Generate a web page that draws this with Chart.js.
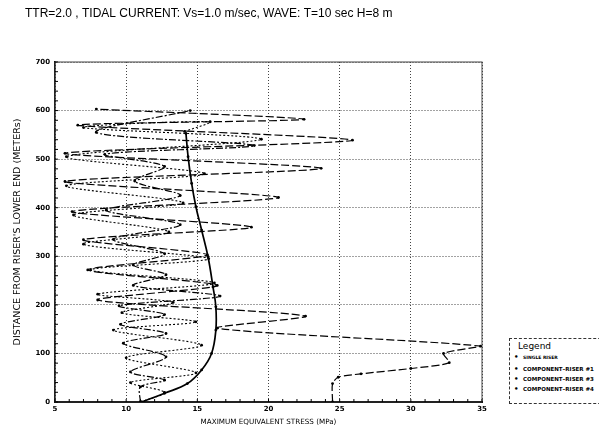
<!DOCTYPE html>
<html>
<head>
<meta charset="utf-8">
<script src="https://cdn.jsdelivr.net/npm/chart.js@4/dist/chart.umd.min.js"></script>
<style>
  html, body { margin: 0; padding: 0; background: #fff; overflow: hidden; }
  #wrap { position: relative; width: 599px; height: 433px; }
  #legend {
    position: absolute; left: 509px; top: 338px; width: 110px; height: 64px;
    border: 1px dashed #333; background: #fff; font-family: "DejaVu Sans", sans-serif; color: #000;
  }
  #legend .head { position: absolute; left: 8px; top: 2px; font-size: 9px; }
  #legend .row { position: absolute; left: 4px; font-size: 5.5px; font-weight: bold; white-space: nowrap; }
  #legend .row span { display: inline-block; width: 9px; font-size: 7px; }
</style>
</head>
<body>
<div id="wrap">
  <canvas id="mychart" width="599" height="433"></canvas>
  <div id="legend"></div>
</div>
<script>
'use strict';

const chartTitle = 'TTR=2.0 , TIDAL CURRENT: Vs=1.0 m/sec, WAVE: T=10 sec H=8 m';
const seriesNames = ['SINGLE RISER', 'COMPONENT\u2013RISER #1', 'COMPONENT\u2013RISER #3', 'COMPONENT\u2013RISER #4'];
const xTicks = [5, 10, 15, 20, 25, 30, 35];
const yTicks = [0, 100, 200, 300, 400, 500, 600, 700];

// single riser: smooth envelope
const singleStress = [11.1, 12.7, 14.3, 15.3, 16.0, 16.3, 16.3, 16.1, 15.75, 15.3, 14.9, 14.6, 14.35, 14.2];
const singleDepth  = [0, 18, 38, 66, 100, 148, 196, 237, 299, 354, 402, 450, 505, 553];

// component riser #1: starts at 24.5, runs out to 35, then big swings
const riser1Stress = [24.5, 24.5, 24.9, 26.5, 30.0, 32.7, 32.3, 34.9, 16.4, 22.6, 8.0, 16.4, 7.3, 15.7, 7.0, 18.8, 6.2, 20.7, 5.7, 23.7, 5.7, 25.9, 6.6, 22.5, 7.9];
const riser1Depth  = [0, 38, 51, 58, 69, 81, 100, 115, 152, 177, 210, 240, 272, 303, 334, 360, 392, 421, 454, 481, 512, 539, 570, 582, 603];

// component riser #3
const riser3Stress = [11.0, 12.7, 10.3, 14.9, 10.0, 15.3, 9.1, 14.9, 9.7, 13.3, 8.0, 16.2, 7.5, 15.8, 7.0, 13.0, 6.3, 14.0, 5.8, 15.5, 5.8, 19.5, 7.0, 15.9, 14.1];
const riser3Depth  = [0, 20, 40, 60, 91, 117, 148, 165, 184, 205, 222, 245, 272, 295, 325, 350, 385, 410, 445, 470, 505, 541, 565, 577, 557];

// component riser #4
const riser4Stress = [11.0, 11.0, 12.7, 10.3, 12.8, 9.8, 12.8, 9.6, 12.7, 9.5, 16.6, 10.5, 12.8, 10.5, 12.7, 9.1, 13.8, 8.6, 13.8, 10.6, 12.7, 8.5, 19.0, 7.9, 14.5];
const riser4Depth  = [0, 31, 45, 62, 93, 121, 141, 160, 180, 198, 218, 240, 262, 282, 305, 335, 365, 395, 425, 455, 485, 510, 528, 555, 600];

const pairs = (xs, ys) => xs.map((x, i) => ({x: x, y: ys[i]}));

const titlePlugin = {
    id: 'plotTitle',
    afterDraw(chart) {
        const ctx = chart.ctx;
        ctx.save();
        ctx.font = '12px "Liberation Sans"';
        ctx.fillStyle = '#000';
        ctx.textBaseline = 'middle';
        ctx.fillText(chartTitle, 25, 14);
        ctx.restore();
    }
};

// frame round the plot and the small ticks on the axes
const framePlugin = {
    id: 'frame',
    beforeDatasetsDraw(chart) {
        const {ctx, chartArea: a, scales} = chart;
        ctx.save();
        ctx.strokeStyle = '#444';
        ctx.lineWidth = 1;
        ctx.strokeRect(a.left, a.top, a.right - a.left, a.bottom - a.top);
        ctx.strokeStyle = '#000';
        ctx.beginPath();
        for (let v = 5; v <= 35; v += 1) {
            const px = scales.x.getPixelForValue(v);
            ctx.moveTo(px, a.bottom);
            ctx.lineTo(px, a.bottom - 3);
        }
        for (let v = 0; v <= 700; v += 20) {
            const py = scales.y.getPixelForValue(v);
            ctx.moveTo(a.left, py);
            ctx.lineTo(a.left + 3, py);
        }
        ctx.stroke();
        ctx.restore();
    }
};

function lineSet(label, xs, ys, width, dash, tension) {
    return {
        label: label,
        data: pairs(xs, ys),
        borderColor: '#000',
        backgroundColor: '#000',
        borderWidth: width,
        borderDash: dash,
        pointRadius: 1.4,
        pointBorderWidth: 0,
        tension: tension,
    };
}

const data = {
    datasets: [
        lineSet(seriesNames[0], singleStress, singleDepth, 1.7, [], 0.4),
        lineSet(seriesNames[1], riser1Stress, riser1Depth, 1.2, [8, 3], 0.25),
        lineSet(seriesNames[2], riser3Stress, riser3Depth, 1.1, [2, 2], 0.3),
        lineSet(seriesNames[3], riser4Stress, riser4Depth, 1.2, [7, 2, 2, 2], 0.3),
    ],
};

const tickFont = {family: '"DejaVu Sans"', size: 7, weight: 'bold'};

new Chart(document.getElementById('mychart'), {
    type: 'line',
    data: data,
    plugins: [titlePlugin, framePlugin],
    options: {
        responsive: false,
        animation: false,
        layout: {padding: {left: 12, right: 117, top: 62, bottom: 0}},
        plugins: {legend: {display: false}, tooltip: {enabled: false}},
        scales: {
            x: {
                type: 'linear',
                min: 5, max: 35,
                afterBuildTicks: (s) => { s.ticks = xTicks.map(v => ({value: v})); },
                afterFit: (s) => { s.height = 31; },
                ticks: {color: '#000', font: tickFont, padding: 3, maxRotation: 0},
                grid: {color: '#444', lineWidth: 1, drawTicks: false},
                border: {display: true, color: '#000', width: 2, dash: [1, 2]},
                title: {display: true, text: 'MAXIMUM EQUIVALENT STRESS (MPa)', color: '#000',
                        font: {family: '"DejaVu Sans"', size: 7.2}, padding: {top: 0, bottom: 7}},
            },
            y: {
                type: 'linear',
                min: 0, max: 700,
                afterBuildTicks: (s) => { s.ticks = yTicks.map(v => ({value: v})); },
                afterFit: (s) => { s.width = 43; },
                ticks: {color: '#000', font: tickFont, padding: 5},
                grid: {color: '#444', lineWidth: 1, drawTicks: false},
                border: {display: true, color: '#000', width: 1.5, dash: [1, 2]},
                title: {display: true, text: "DISTANCE FROM RISER'S LOWER END (METERs)", color: '#000',
                        font: {family: '"DejaVu Sans"', size: 9.5}, padding: 0},
            },
        },
    },
});

// legend box beside the plot
const legendEl = document.getElementById('legend');
const head = document.createElement('div');
head.className = 'head';
head.textContent = 'Legend';
legendEl.appendChild(head);
const rowTops = [14, 26, 36, 46];
seriesNames.forEach((name, i) => {
    const row = document.createElement('div');
    row.className = 'row';
    row.style.top = rowTops[i] + 'px';
    if (i === 0) row.style.fontSize = '4.5px';
    row.innerHTML = '<span>\u2022</span>';
    row.appendChild(document.createTextNode(name));
    legendEl.appendChild(row);
});
</script>
</body>
</html>
